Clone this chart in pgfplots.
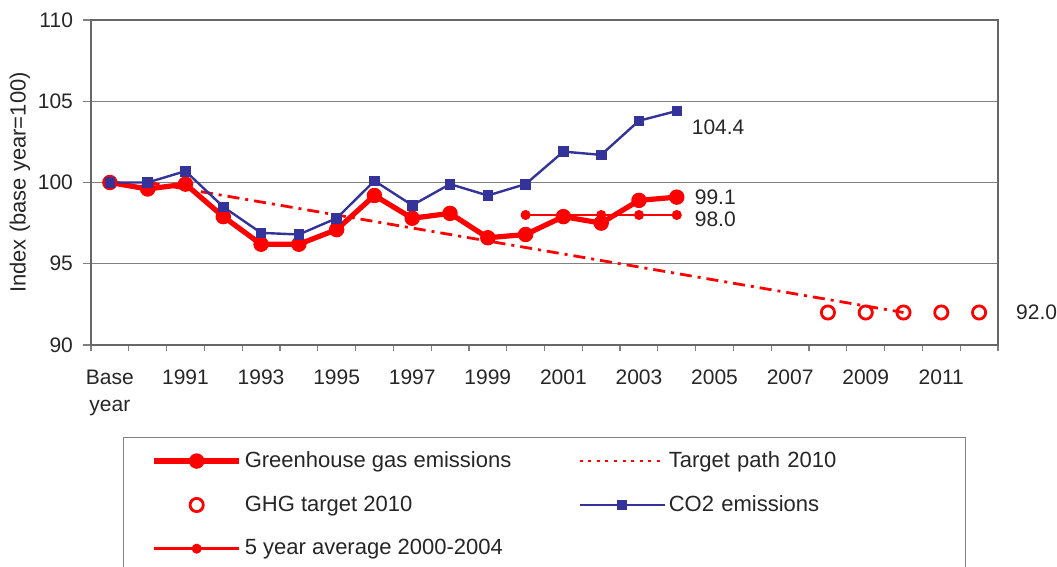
\documentclass[border=0pt]{standalone}
\usepackage{pgfplots}
\pgfplotsset{compat=1.18}
\usepackage{fontspec}
\setmainfont{Liberation Sans}
\definecolor{ghgred}{RGB}{255,0,0}
\definecolor{co2blue}{RGB}{51,51,153}
\definecolor{axgray}{RGB}{128,128,128}
\begin{document}
\begin{tikzpicture}
\useasboundingbox (0,0) rectangle (528.5pt,283.5pt);
\begin{axis}[
  at={(45.5pt,111pt)}, anchor=south west,
  scale only axis, width=453.5pt, height=162.5pt,
  clip=false,
  xmin=-0.5, xmax=23.5, ymin=90, ymax=110,
  ytick={90,95,100,105,110},
  xtick={0,2,4,6,8,10,12,14,16,18,20,22},
  xticklabels={{Base\\year},1991,1993,1995,1997,1999,2001,2003,2005,2007,2009,2011},
  minor xtick={-0.5,0.5,...,23.5},
  major x tick style={draw=none},
  tick align=outside,
  major tick length=4pt, minor tick length=3pt,
  tick style={axgray, line width=0.6pt},
  xtick pos=bottom, ytick pos=left,
  ymajorgrids, grid style={axgray, line width=0.5pt},
  axis line style={axgray!80!black, line width=0.7pt},
  /pgf/number format/assume math mode=true,
  tick label style={font=\fontsize{10.5}{13.5}\selectfont, text=black!85},
  x tick label style={align=center, yshift=-5pt},
  y tick label style={xshift=-1.5pt},
  ylabel={Index (base year=100)},
  ylabel style={at={(axis description cs:0,0.5)}, yshift=35.5pt, anchor=center, font=\fontsize{11}{13}\selectfont, text=black!85},
  legend columns=2,
  legend cell align=left,
  legend image code/.code={\draw[mark repeat=2,mark phase=2,#1] plot coordinates {(0pt,0pt) (21.25pt,0pt) (42.5pt,0pt)};},
  legend style={at={(axis description cs:0,0)}, anchor=north west, xshift=16pt, yshift=-46pt,
    draw=axgray, line width=0.6pt, inner xsep=14pt, inner ysep=6pt,
    row sep=10.5pt, column sep=0pt,
    nodes={inner xsep=1.5pt, inner ysep=1pt, font=\fontsize{11}{13}\selectfont, text=black!85},
    /tikz/column 2/.style={column sep=32pt},
    /tikz/column 4/.style={nodes={text width=133pt, align=left}}},
]
% Greenhouse gas emissions
\addplot[ghgred, line width=2.6pt, mark=*, mark size=3.6pt, mark options={line width=0.5pt}] coordinates {
 (0,100.0) (1,99.6) (2,99.9) (3,97.9) (4,96.2) (5,96.2) (6,97.1) (7,99.2) (8,97.8)
 (9,98.1) (10,96.6) (11,96.8) (12,97.9) (13,97.5) (14,98.9) (15,99.1)};
\addlegendentry{Greenhouse gas emissions}
% Target path
\addplot[ghgred, line width=1.4pt, dash pattern=on 6pt off 3pt on 1.5pt off 3pt,
  legend image post style={dash pattern=on 1.5pt off 2.8pt, line width=1.2pt}] coordinates {(1,100) (21,92)};
\addlegendentry{Target path 2010}
% GHG target 2010
\addplot[ghgred, only marks, mark=o, mark size=3.3pt, mark options={line width=1.4pt}] coordinates {
 (19,92) (20,92) (21,92) (22,92) (23,92)};
\addlegendentry{GHG target 2010}
% CO2 emissions
\addplot[co2blue, line width=1.2pt, mark=square*, mark size=2.4pt, mark options={line width=0.4pt}] coordinates {
 (0,100.0) (1,100.0) (2,100.7) (3,98.5) (4,96.9) (5,96.8) (6,97.8) (7,100.1) (8,98.6)
 (9,99.9) (10,99.2) (11,99.9) (12,101.9) (13,101.7) (14,103.8) (15,104.4)};
\addlegendentry{CO2 emissions}
% 5 year average
\addplot[ghgred, line width=1.3pt, mark=*, mark size=2.3pt, mark options={line width=0.4pt}] coordinates {
 (11,98.0) (12,98.0) (13,98.0) (14,98.0) (15,98.0)};
\addlegendentry{5 year average 2000-2004}
\node[anchor=west, font=\fontsize{10.5}{12}\selectfont, text=black!85, xshift=4pt, yshift=-8pt] at (axis cs:15,104.4) {104.4};
\node[anchor=west, font=\fontsize{10.5}{12}\selectfont, text=black!85, xshift=5.5pt] at (axis cs:15,99.1) {99.1};
\node[anchor=west, font=\fontsize{10.5}{12}\selectfont, text=black!85, xshift=5.5pt, yshift=-2.25pt] at (axis cs:15,98.0) {98.0};
\node[anchor=west, font=\fontsize{10.5}{12}\selectfont, text=black!85, xshift=15pt] at (axis cs:23,92.0) {92.0};
\end{axis}
\end{tikzpicture}
\end{document}
